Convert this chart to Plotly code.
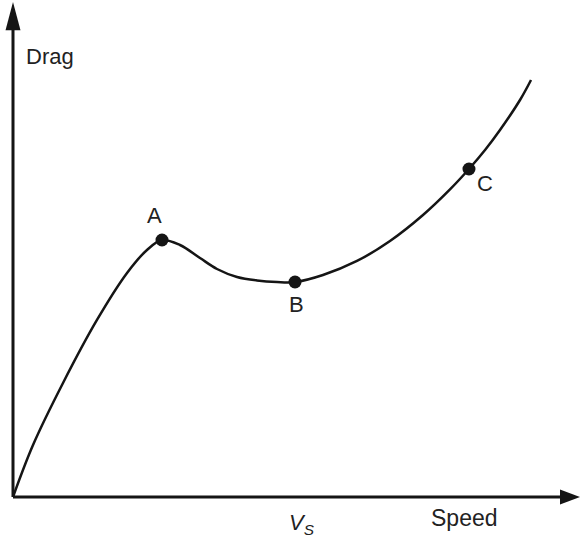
import plotly.graph_objects as go

# Curve (abstract units: speed 0-100, drag 0-100)
speed = [0.0, 3.53, 8.82, 14.81, 20.11, 23.63, 26.28, 29.45, 32.98, 35.98, 39.51,
         43.03, 46.56, 49.74, 54.67, 60.67, 66.49, 72.31, 77.07, 80.42, 83.25,
         85.89, 89.42, 91.36]
drag = [0.0, 10.50, 23.03, 35.76, 45.25, 49.90, 51.92, 50.91, 48.28, 46.06, 44.44,
        43.74, 43.43, 43.43, 44.85, 47.68, 51.72, 56.97, 62.14, 66.26, 70.10,
        74.14, 80.20, 84.24]

point_labels = ["A", "B", "C"]
point_speed = [26.28, 49.74, 80.42]
point_drag = [51.92, 43.43, 66.26]

INK = "#151515"
FONT = "Liberation Sans, Arial, sans-serif"
FS = 22

fig = go.Figure()
fig.add_trace(go.Scatter(x=speed, y=drag, mode="lines",
                         line=dict(color=INK, width=2.5, shape="spline", smoothing=1.0),
                         hoverinfo="skip"))
fig.add_trace(go.Scatter(x=point_speed, y=point_drag, mode="markers",
                         marker=dict(color=INK, size=13), hoverinfo="skip"))

# Point labels
offsets = {"A": (-8, 24), "B": (1, -22), "C": (16, -14)}
for lab, sx, dy in zip(point_labels, point_speed, point_drag):
    ox, oy = offsets[lab]
    fig.add_annotation(x=sx, y=dy, text=lab, showarrow=False, xshift=ox, yshift=oy,
                       font=dict(size=FS, color="#222", family=FONT))

# Axes with arrows
fig.add_shape(type="line", x0=0, y0=0, x1=0, y1=95, line=dict(color=INK, width=3))
fig.add_shape(type="line", x0=0, y0=0, x1=97, y1=0, line=dict(color=INK, width=3))
fig.add_shape(type="path", path="M 0 100.0 L -1.32 94.3 L 1.32 94.3 Z",
              fillcolor=INK, line=dict(color=INK, width=0))
fig.add_shape(type="path", path="M 100.0 0 L 96.47 1.52 L 96.47 -1.52 Z",
              fillcolor=INK, line=dict(color=INK, width=0))

fig.add_annotation(x=0, y=88.9, text="Drag", showarrow=False, xanchor="left", xshift=11,
                   font=dict(size=FS, color="#222", family=FONT))
fig.add_annotation(x=79.7, y=0, text="Speed", showarrow=False, yshift=-21,
                   font=dict(size=FS + 1, color="#222", family=FONT))
fig.add_annotation(x=point_speed[1], y=0, text="<i>V</i><sub><i>S</i></sub>", showarrow=False,
                   xshift=7, yshift=-27,
                   font=dict(size=FS, color="#222", family=FONT))

fig.update_layout(
    width=581, height=541,
    margin=dict(l=0, r=0, t=0, b=34),
    plot_bgcolor="white", paper_bgcolor="white",
    showlegend=False,
    xaxis=dict(range=[-2.293, 100.176], visible=False, fixedrange=True),
    yaxis=dict(range=[-2.02, 100.40], visible=False, fixedrange=True),
)

fig.write_html("out.html", config={"displayModeBar": False},
               post_script="document.body.style.margin='0';document.body.style.padding='0';")
